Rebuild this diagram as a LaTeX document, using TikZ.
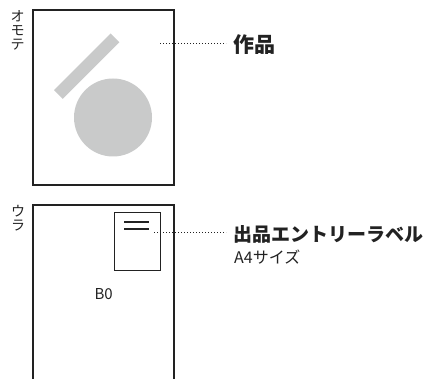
\documentclass[tikz,border=0pt]{standalone}
\usepackage{fontspec}
\setmainfont{Noto Sans CJK JP}
\usetikzlibrary{positioning}
\definecolor{artgray}{RGB}{201,202,202}
\definecolor{ink}{RGB}{34,34,34}

\begin{document}
\begin{tikzpicture}[x=1pt, y=-1pt,
  sheet/.style={draw=ink, line width=1.3pt},
  leader/.style={draw=ink, line width=0.8pt, dash pattern=on 0.8pt off 2.2pt},
  mainlabel/.style={anchor=west, inner ysep=0pt, inner xsep=7pt, text=ink, font=\fontsize{#1}{#1}\selectfont\bfseries},
  sublabel/.style={inner sep=0pt, text=ink, font=\fontsize{#1}{#1}\selectfont},
  sidelabel/.style={inner sep=0pt, text=ink, align=center, font=\fontsize{14}{14}\selectfont}]
  \useasboundingbox (0,0) rectangle (430,379);

  % Front side (omote)
  \draw[sheet] (33,10) rectangle (174,185);
  \node[sidelabel, anchor=north] (front) at (17.5,10) {オ\\モ\\テ};
  % Artwork: bar and disc
  \fill[artgray] (110.6,33.5) -- (119.4,42.3) -- (62.8,98.9) -- (54,90.1) -- cycle;
  \fill[artgray] (113,117.5) circle (39);

  % Leader to artwork label
  \coordinate (worktip) at (160,43);
  \node[mainlabel=21] (work) at (226,44.8) {作品};
  \draw[leader] (worktip) -- (work.west |- worktip);

  % Back side (ura), cut off at the bottom
  \draw[sheet] (33,385) -- (33,205) -- (174,205) -- (174,385);
  \node[sidelabel, anchor=north] (back) at (18,205) {ウ\\ラ};
  \node[sublabel=15] (size) at (103.7,294) {B0};

  % Entry label card
  \draw[draw=ink, line width=1pt] (114,212.5) rectangle (160.5,270.5);
  \draw[ink, line width=1.3pt] (124,222) -- (149,222);
  \draw[ink, line width=1.3pt] (124,229) -- (149,229);

  % Leader to entry label
  \coordinate (cardtip) at (154,232);
  \node[mainlabel=19] (entry) at (226,234.3) {出品エントリーラベル};
  \node[sublabel=16, below=6.5pt of entry.south west, anchor=north west, xshift=8pt] (format) {A4サイズ};
  \draw[leader] (cardtip) -- (entry.west |- cardtip);
\end{tikzpicture}
\end{document}
